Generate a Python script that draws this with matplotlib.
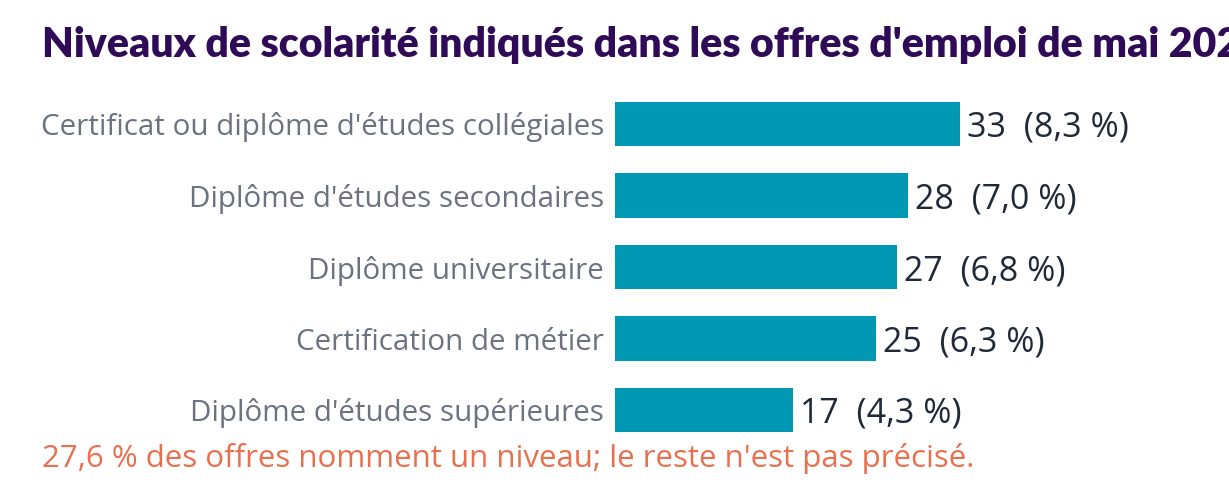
import numpy as np
import matplotlib.pyplot as plt

# Data
categories = ["Certificat ou diplôme d'études collégiales",
              "Diplôme d'études secondaires",
              "Diplôme universitaire",
              "Certification de métier",
              "Diplôme d'études supérieures"]
counts = [33, 28, 27, 25, 17]
shares = ["8,3", "7,0", "6,8", "6,3", "4,3"]

title = "Niveaux de scolarité indiqués dans les offres d'emploi de mai 2024"
note = "27,6 % des offres nomment un niveau; le reste n'est pas précisé."

plt.rcParams['font.family'] = ['Open Sans', 'DejaVu Sans']

fig = plt.figure(figsize=(12.29, 5), dpi=100)
ax = fig.add_axes([615 / 1229, 0.1085, 1 - 615 / 1229, 0.715])

y = np.arange(len(categories))
ax.barh(y, counts, height=0.62, color='#0098B3')
ax.set_ylim(4.5, -0.5)
ax.set_xlim(0, 614 / 10.45)

ax.set_yticks(y)
ax.set_yticklabels(categories, fontsize=21.3, color='#6B7280', va='center_baseline')
ax.tick_params(axis='y', length=0, pad=8)
ax.set_xticks([])
for s in ax.spines.values():
    s.set_visible(False)

for yi, c, sh in zip(y, counts, shares):
    ax.annotate(f"{c}  ({sh} %)", (c, yi), xytext=(5, 0), textcoords='offset points',
                va='center_baseline', ha='left', fontsize=24.5, color='#1F2937')

fig.text(42 / 1229, 1 - 45 / 500, title, fontsize=29.5, fontweight='heavy',
         family=['Lato', 'DejaVu Sans'], color='#2E0A57', va='center', ha='left')
fig.text(42 / 1229, 1 - 458 / 500, note, fontsize=22.5, color='#E8704F',
         va='center', ha='left')

fig.savefig('out.png', dpi=100)
